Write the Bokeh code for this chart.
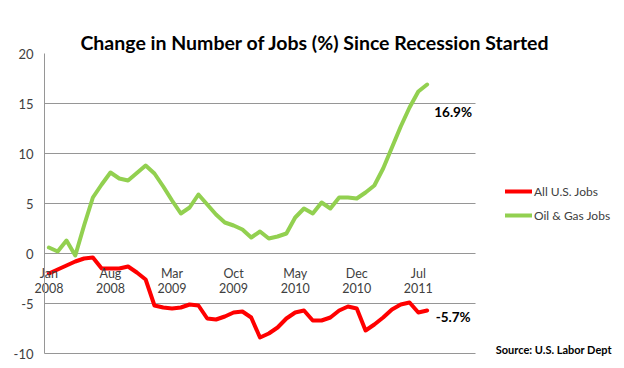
from bokeh.plotting import figure
from bokeh.models import (Range1d, FixedTicker, Legend, LegendItem, LinearAxis,
                          ColumnDataSource, Label)
from bokeh.core.properties import value
from bokeh.embed import file_html
from bokeh.resources import INLINE

# Data (monthly, Jan 2008 - Aug 2011), % change since recession started
all_us = [-2.0, -1.6, -1.2, -0.8, -0.5, -0.4, -1.5, -1.5, -1.5, -1.3,
          -1.9, -2.6, -5.2, -5.4, -5.5, -5.4, -5.1, -5.2, -6.5, -6.6,
          -6.3, -5.9, -5.8, -6.4, -8.4, -8.0, -7.4, -6.5, -5.9, -5.7,
          -6.7, -6.7, -6.4, -5.7, -5.3, -5.5, -7.7, -7.1, -6.4, -5.6,
          -5.1, -4.9, -5.9, -5.7]
oil_gas = [0.6, 0.2, 1.3, -0.2, 2.8, 5.6, 6.9, 8.1, 7.5, 7.3,
           8.05, 8.8, 8.0, 6.7, 5.3, 4.0, 4.6, 5.9, 4.9, 3.9,
           3.1, 2.8, 2.4, 1.6, 2.2, 1.5, 1.7, 2.0, 3.6, 4.5,
           4.0, 5.1, 4.5, 5.6, 5.6, 5.5, 6.1, 6.8, 8.5, 10.6,
           12.7, 14.6, 16.2, 16.9]
month_idx = list(range(len(all_us)))
tick_idx = [0, 7, 14, 21, 28, 35, 42]
tick_months = ["Jan", "Aug", "Mar", "Oct", "May", "Dec", "Jul"]
tick_years = ["2008", "2008", "2009", "2009", "2010", "2010", "2011"]
y_ticks = [-10, -5, 0, 5, 10, 15, 20]
y_tick_labels = ["-10", "-5", "0", "5", "10", "15", "20"]
grid_ticks = [-10, -5, 0, 5, 10, 15]
end_labels = ["16.9%", "-5.7%"]
series_names = ["All U.S. Jobs", "Oil & Gas Jobs"]
title_text = "Change in Number of Jobs (%) Since Recession Started"
source_text = "Source: U.S. Labor Dept"

# category axis extent (49 month slots) and the full view window
cat_start, cat_end = -0.5, 48.5
view_x_start, view_x_end = -5.502, 64.53
view_y_start, view_y_end = -10.7, 25.3

FONT = "Lato"
RED = "#FF0000"
GREEN = "#92D050"
LABEL = "#404040"
GRID = "#969696"

p = figure(title=None, width=616, height=360, output_backend="svg",
           toolbar_location=None,
           x_range=Range1d(view_x_start, view_x_end),
           y_range=Range1d(view_y_start, view_y_end),
           min_border_left=0, min_border_right=0, min_border_top=0,
           min_border_bottom=0)
p.outline_line_color = None
p.xaxis.visible = False
p.yaxis.visible = False
p.xgrid.visible = False
p.ygrid.visible = False

# value axis at the left end of the category axis
yax = LinearAxis(fixed_location=cat_start, ticker=FixedTicker(ticks=y_ticks),
                 bounds=(y_ticks[0], y_ticks[-1]),
                 major_label_overrides={t: s for t, s in zip(y_ticks, y_tick_labels)},
                 axis_line_color=GRID, major_tick_line_color=None,
                 minor_tick_line_color=None, major_tick_out=0, major_tick_in=0,
                 major_label_standoff=11, major_label_text_font=FONT,
                 major_label_text_font_size="13px", major_label_text_color=LABEL)
p.add_layout(yax, "left")

# horizontal gridlines across the category axis extent only
p.segment(x0=[cat_start] * len(grid_ticks), x1=[cat_end] * len(grid_ticks),
          y0=grid_ticks, y1=grid_ticks, line_color=GRID, line_width=1)

# category axis crossing at zero: month line and year line
for labels, standoff in ((tick_months, 12), (tick_years, 29)):
    ax = LinearAxis(fixed_location=0, ticker=FixedTicker(ticks=tick_idx),
                    major_label_overrides={t: s for t, s in zip(tick_idx, labels)},
                    axis_line_color=None, major_tick_line_color=None,
                    minor_tick_line_color=None, major_tick_out=0, major_tick_in=0,
                    major_label_standoff=standoff, major_label_text_font=FONT,
                    major_label_text_font_size="12.5px",
                    major_label_text_color=LABEL)
    p.add_layout(ax, "below")

r_us = p.line(month_idx, all_us, line_color=RED, line_width=4,
              line_join="round", line_cap="round")
r_og = p.line(month_idx, oil_gas, line_color=GREEN, line_width=4,
              line_join="round", line_cap="round")

# end-point data labels
src_end = ColumnDataSource(dict(x=[month_idx[-1], month_idx[-1]],
                                y=[oil_gas[-1], all_us[-1]],
                                t=end_labels, yo=[27, 6]))
p.text(x="x", y="y", text="t", source=src_end, x_offset=26, y_offset="yo",
       text_align="center", text_baseline="middle", text_font=value(FONT),
       text_font_size="13.5px", text_font_style="bold", text_color="black")

legend = Legend(items=[LegendItem(label=series_names[0], renderers=[r_us]),
                       LegendItem(label=series_names[1], renderers=[r_og])],
                location=(505, 135), padding=0, margin=0, spacing=4,
                glyph_width=27, glyph_height=20, label_height=20,
                label_standoff=2, border_line_color=None,
                background_fill_alpha=0,
                label_text_font=FONT, label_text_font_size="12px",
                label_text_color=LABEL)
p.add_layout(legend, "center")

title_label = Label(x=3.59, y=21.15, text=title_text, text_align="left",
                    text_baseline="alphabetic", text_font=FONT,
                    text_font_size="19.5px", text_font_style="bold",
                    text_color="black")
p.add_layout(title_label)

src_label = Label(x=50.8, y=-9.6, text=source_text, text_align="left",
                  text_baseline="middle", text_font=FONT,
                  text_font_size="11px", text_font_style="bold",
                  text_color="black")
p.add_layout(src_label)

open("out.html", "w").write(file_html(p, INLINE))
